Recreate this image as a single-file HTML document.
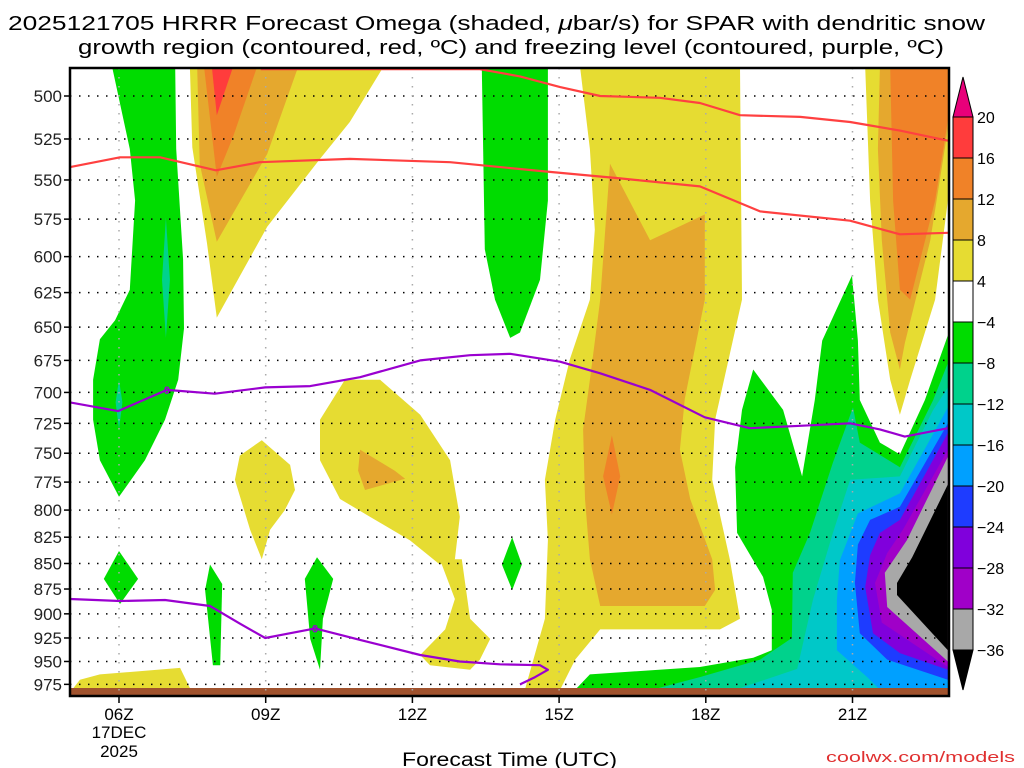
<!DOCTYPE html>
<html><head><meta charset="utf-8"><style>
body{margin:0;background:#fff;}
svg{display:block;font-family:"Liberation Sans","DejaVu Sans",sans-serif;}
</style></head><body>
<svg id="chart" width="1024" height="768" viewBox="0 0 1024 768">
<text x="8" y="30" font-size="20" textLength="977" lengthAdjust="spacingAndGlyphs">2025121705 HRRR Forecast Omega (shaded, <tspan font-style="italic">μ</tspan>bar/s) for SPAR with dendritic snow</text>
<text x="78" y="54" font-size="20" textLength="866" lengthAdjust="spacingAndGlyphs">growth region (contoured, red, ºC) and freezing level (contoured, purple, ºC)</text>
<g id="plot"></g>
<g id="axes"></g>
<g id="cbar"></g>
<text x="402" y="766" font-size="19" textLength="215" lengthAdjust="spacingAndGlyphs">Forecast Time (UTC)</text>
<text x="826" y="762" font-size="15" fill="#e03030" textLength="189" lengthAdjust="spacingAndGlyphs">coolwx.com/models</text>
</svg>
<script>
const pressureTicks=[500,525,550,575,600,625,650,675,700,725,750,775,800,825,850,875,900,925,950,975];
const hourTicks=[6,9,12,15,18,21];
const hourLabels=["06Z","09Z","12Z","15Z","18Z","21Z"];
const cbarLevels=[20,16,12,8,4,-4,-8,-12,-16,-20,-24,-28,-32,-36];
const cbarColors=["#ff3c3c","#f08228","#e5a82e","#e6dc32","#ffffff","#00dc00","#00d28c","#00c8c8","#00a0ff","#1e3cff","#8000dc","#a000c8","#a8a8a8"];
const colorOf={r:"#ff3c3c",o:"#f08228",od:"#e5a82e",y:"#e6dc32",g:"#00dc00",t:"#00d28c",c:"#00c8c8",lb:"#00a0ff",b:"#1e3cff",p:"#8000dc",m:"#a000c8",gr:"#a8a8a8",k:"#000000"};
const yellowTopLeft=[[7.45,484],[11.4,484],[10.72,515],[10.11,537],[9.03,580],[8.0,643],[7.8,591],[7.5,530]];
const odTopLeft=[[7.6,484],[9.66,484],[9.03,534],[8.0,590],[7.65,540]];
const oTopLeft=[[7.74,484],[8.82,484],[8.33,524],[8.0,548]];
const rTopLeft=[[7.9,484],[8.33,484],[8.0,511]];
const greenLeft=[[5.86,484],[7.15,484],[7.17,531],[7.31,602],[7.33,651],[7.21,690],[6.94,722],[6.53,756],[6.0,788],[5.61,756],[5.47,722],[5.47,690],[5.61,659],[5.92,645],[6.22,623],[6.33,563],[6.22,531]];
const tealLeft=[[6.96,574],[7.04,616],[6.96,658],[6.88,616]];
const tealLeft2=[[6.0,690],[6.07,708],[6.0,730],[5.93,708]];
const yellowMid=[[15.43,484],[18.70,484],[18.74,630],[18.19,722],[18.13,773],[18.49,846],[18.70,905],[18.29,916],[15.84,916],[15.33,948],[15.02,981],[14.30,981],[14.71,905],[14.77,828],[14.71,773],[14.92,722],[15.22,674],[15.63,630],[15.73,582],[15.63,531]];
const odMid=[[16.04,540],[16.86,589],[17.98,572],[17.98,630],[17.57,705],[17.47,747],[17.68,790],[18.13,846],[18.19,876],[17.98,892],[15.84,892],[15.63,846],[15.53,790],[15.49,730],[15.63,690],[15.84,630]];
const oMid=[[16.08,735],[16.25,770],[16.08,804],[15.9,770]];
const greenMid=[[13.42,484],[14.77,484],[14.77,563],[14.61,616],[14.2,654],[14.0,658],[13.69,630],[13.48,595]];
const yellowBlob=[[10.62,690],[11.34,690],[12.16,718],[12.77,756],[12.97,806],[12.87,846],[12.56,851],[11.95,828],[11.13,806],[10.52,790],[10.11,756],[10.11,722]];
const yellowBlobLow=[[12.56,846],[13.01,846],[13.18,905],[13.59,926],[13.38,948],[13.18,959],[12.36,954],[12.16,943],[12.67,916],[12.87,885]];
const odBlob=[[10.93,747],[11.64,765],[11.85,772],[11.03,782],[10.89,765]];
const yellowSmall=[[8.92,739],[9.5,760],[9.6,782],[9.39,800],[9.09,818],[8.92,846],[8.68,818],[8.37,773],[8.47,752]];
const greenA=[[6.0,838],[6.39,865],[6.02,890],[5.69,865]];
const greenB=[[7.86,851],[8.11,870],[8.07,954],[7.92,954],[7.76,876]];
const greenC=[[10.05,844],[10.38,865],[10.17,905],[10.11,959],[9.91,926],[9.80,865]];
const greenD=[[14.04,825],[14.24,851],[14.04,876],[13.83,851]];
const yellowBottom=[[5.61,964],[7.25,957],[7.45,979],[5.04,981],[5.2,970]];
const yellowRight=[[21.26,484],[22.95,484],[22.95,563],[22.69,630],[22.18,690],[21.97,718],[21.77,690],[21.52,630],[21.36,563]];
const odRight=[[21.56,484],[22.95,484],[22.95,519],[22.59,589],[22.07,662],[21.97,682],[21.77,654],[21.6,589],[21.52,531]];
const oRight=[[21.77,484],[22.95,484],[22.95,514],[22.69,563],[22.18,630],[21.97,623],[21.83,563]];
const greenRight=[[18.97,682],[19.58,714],[19.97,770],[20.23,706],[20.38,660],[20.99,613],[21.11,660],[21.15,706],[21.56,741],[21.97,751],[22.48,706],[22.95,656],[22.95,981],[15.33,981],[15.63,964],[17.88,956],[18.97,946],[19.35,938],[19.35,896],[19.17,863],[18.64,821],[18.60,762],[18.74,714]];
const tealRight=[[21.01,712],[21.15,741],[21.97,762],[22.65,706],[22.95,677],[22.95,981],[16.9,981],[17.88,967],[19.11,948],[19.76,925],[19.78,859],[20.13,821],[20.60,758]];
const cyanRight=[[20.95,773],[21.97,770],[22.65,714],[22.95,696],[22.95,981],[18.6,981],[19.87,958],[20.19,886],[20.60,821]];
const lbRight=[[21.11,803],[21.97,785],[22.73,728],[22.95,712],[22.95,981],[21.56,981],[21.30,967],[20.68,938],[20.68,886],[20.74,847]];
const bRight=[[21.36,809],[21.97,797],[22.95,725],[22.95,970],[21.71,948],[21.15,920],[21.05,869],[21.11,832]];
const pRight=[[21.56,821],[21.97,809],[22.95,733],[22.95,959],[21.97,941],[21.42,920],[21.26,873],[21.36,842]];
const mRight=[[21.71,840],[22.03,818],[22.95,747],[22.95,956],[21.60,909],[21.46,869]];
const grRight=[[21.66,859],[22.11,828],[22.95,753],[22.95,950],[21.71,893]];
const kRight=[[22.95,777],[22.22,844],[21.91,869],[21.91,881],[22.95,938]];
const regions=[
["yellow-top-left","y",yellowTopLeft],["orange-dark-top-left","od",odTopLeft],["orange-top-left","o",oTopLeft],["red-top-left","r",rTopLeft],
["green-left","g",greenLeft],["teal-left","t",tealLeft],["teal-left-2","t",tealLeft2],
["yellow-mid","y",yellowMid],["orange-dark-mid","od",odMid],["orange-mid","o",oMid],["green-mid","g",greenMid],
["yellow-blob","y",yellowBlob],["yellow-blob-low","y",yellowBlobLow],["orange-dark-blob","od",odBlob],["yellow-small","y",yellowSmall],
["green-a","g",greenA],["green-b","g",greenB],["green-c","g",greenC],["green-d","g",greenD],["yellow-bottom","y",yellowBottom],
["yellow-right","y",yellowRight],["orange-dark-right","od",odRight],["orange-right","o",oRight],
["green-right","g",greenRight],["teal-right","t",tealRight],["cyan-right","c",cyanRight],["lightblue-right","lb",lbRight],
["blue-right","b",bRight],["purple-right","p",pRight],["magenta-right","m",mRight],["gray-right","gr",grRight],["black-right","k",kRight]];
const dgzUpper=[[8.9,485],[11.5,485],[13.38,485],[14.2,489],[15.02,495],[15.84,500],[17.06,501],[17.88,504],[18.70,511],[19.93,512],[20.95,515],[21.97,520],[22.95,526]];
const dgzLower=[[5.0,542],[6.02,536],[6.84,536],[7.98,544],[8.88,539],[10.72,537],[12.77,539],[14.81,545],[16.25,549],[17.88,554],[19.11,570],[20.95,576],[21.97,585],[22.95,584]];
const frzUpper=[[5.0,708],[5.98,715],[6.98,698],[7.96,701],[8.99,696],[9.91,695],[10.93,688],[12.16,675],[13.18,671],[14.0,670],[15.02,676],[15.84,685],[16.86,698],[17.98,720],[18.90,729],[19.93,727],[20.95,725],[21.56,730],[22.07,736],[22.95,729]];
const frzLower=[[5.0,885],[6.02,887],[6.94,886],[7.86,892],[8.47,910],[8.99,925],[10.01,915],[10.93,927],[12.16,943],[12.97,950],[13.79,953],[14.61,954],[14.77,959],[14.51,967],[14.2,975]];
const frzLabels=[[6.98,698],[10.01,915]];

const X0=70,X1=949,Y0=68,Y1=696;
function xs(h){return 119+(h-6)*48.9;}
function ys(p){return 96+881*Math.log(p/500);}
const NS="http://www.w3.org/2000/svg";
function mk(t,a,parent){const e=document.createElementNS(NS,t);for(const k in a)e.setAttribute(k,a[k]);parent.appendChild(e);return e;}
const plotG=document.getElementById('plot'),axesG=document.getElementById('axes'),cbarG=document.getElementById('cbar');
const defsEl=mk('defs',{},plotG);const clipEl=mk('clipPath',{id:'clip'},defsEl);mk('rect',{x:X0,y:Y0,width:X1-X0,height:Y1-Y0},clipEl);
const gEl=mk('g',{'clip-path':'url(#clip)'},plotG);
regions.forEach(r=>{
 const el=mk('polygon',{points:r[2].map(q=>xs(q[0]).toFixed(1)+','+ys(q[1]).toFixed(1)).join(' '),fill:colorOf[r[1]]},gEl);
 
 
});
const groundEl=mk('rect',{x:X0,y:688,width:X1-X0,height:Y1-688,fill:'#a0522d'},gEl);


pressureTicks.forEach(p=>{
 const l=mk('line',{x1:X0,x2:X1,y1:ys(p),y2:ys(p),stroke:'#000','stroke-width':1.5,'stroke-dasharray':'1.5,7.5'},gEl);
 
 
});
hourTicks.forEach(h=>{
 const l=mk('line',{x1:xs(h),x2:xs(h),y1:Y0,y2:Y1,stroke:'#aaa','stroke-width':1.5,'stroke-dasharray':'1.5,7.5'},gEl);
 
 
});
function drawLine(arr,col,name){
 const el=mk('polyline',{points:arr.map(q=>xs(q[0]).toFixed(1)+','+ys(q[1]).toFixed(1)).join(' '),fill:'none',stroke:col,'stroke-width':2.2,'stroke-linejoin':'round'},gEl);
 
 
}
drawLine(dgzUpper,'#ff4040','dgz-contour-upper');
drawLine(dgzLower,'#ff4040','dgz-contour-lower');
drawLine(frzUpper,'#9a00d0','freezing-level-upper');
drawLine(frzLower,'#9a00d0','freezing-level-lower');
frzLabels.forEach(q=>{
 const t=mk('text',{x:xs(q[0]),y:ys(q[1])+4,'font-size':11,fill:'#9a00d0','text-anchor':'middle','font-weight':'bold'},gEl);
 t.textContent='0';
 
 
});
const frameEl=mk('rect',{x:X0,y:Y0,width:X1-X0,height:Y1-Y0,fill:'none',stroke:'#000','stroke-width':2.5},axesG);


pressureTicks.forEach(p=>{
 mk('line',{x1:X0-6,x2:X0,y1:ys(p),y2:ys(p),stroke:'#000','stroke-width':1.5},axesG);
 const t=mk('text',{x:X0-8,y:ys(p)+6,'font-size':17,'text-anchor':'end',fill:'#222'},axesG);
 t.textContent=p;
 
 
});
hourTicks.forEach((h,i)=>{
 mk('line',{x1:xs(h),x2:xs(h),y1:Y1,y2:Y1+7,stroke:'#000','stroke-width':1.5},axesG);
 const t=mk('text',{x:xs(h),y:720,'font-size':17,'text-anchor':'middle'},axesG);
 t.textContent=hourLabels[i];
 
 
});
[['17DEC',738],['2025',757]].forEach(a=>{
 const t=mk('text',{x:xs(6),y:a[1],'font-size':17,'text-anchor':'middle'},axesG);
 t.textContent=a[0];
 
 
});
const CX=953,CW=20,CT=117,STEP=41;
const cbTop=mk('polygon',{points:`${CX},${CT} ${CX+CW},${CT} ${CX+CW/2},${CT-40}`,fill:'#e8007a',stroke:'#000','stroke-width':1},cbarG);


cbarColors.forEach((c,i)=>{
 const r=mk('rect',{x:CX,y:CT+i*STEP,width:CW,height:STEP,fill:c,stroke:'#000','stroke-width':1},cbarG);
 
 
});
const yBot=CT+cbarColors.length*STEP;
const cbBot=mk('polygon',{points:`${CX},${yBot} ${CX+CW},${yBot} ${CX+CW/2},${yBot+40}`,fill:'#000',stroke:'#000','stroke-width':1},cbarG);


cbarLevels.forEach((v,i)=>{
 const t=mk('text',{x:CX+CW+4,y:CT+i*STEP+6,'font-size':16},cbarG);
 t.textContent=(v<0?'\u2212'+(-v):String(v));
 
 
});
</script>
</body></html>
